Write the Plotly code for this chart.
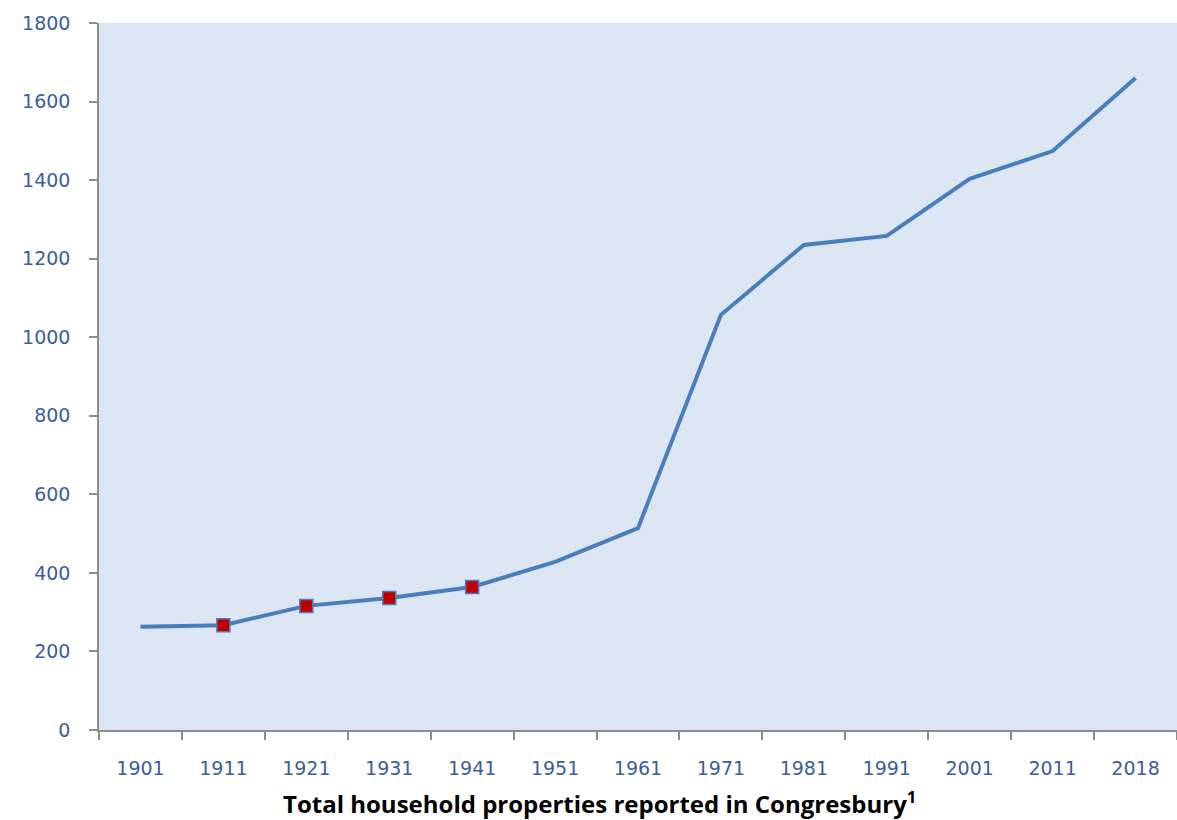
import plotly.graph_objects as go

years = ["1901", "1911", "1921", "1931", "1941", "1951", "1961",
         "1971", "1981", "1991", "2001", "2011", "2018"]
households = [263, 267, 316, 336, 364, 428, 514, 1057, 1235, 1258, 1403, 1474, 1660]
marked_years = ["1911", "1921", "1931", "1941"]
marked_values = [267, 316, 336, 364]
y_ticks = [0, 200, 400, 600, 800, 1000, 1200, 1400, 1600, 1800]

tick_font = dict(family="DejaVu Sans, sans-serif", size=19, color="#3a5e9c")

fig = go.Figure()
fig.add_trace(go.Scatter(
    x=years, y=households, mode="lines",
    line=dict(color="#4a7ebb", width=4), showlegend=False, hoverinfo="x+y"))
fig.add_trace(go.Scatter(
    x=marked_years, y=marked_values, mode="markers",
    marker=dict(symbol="square", size=13, color="#c00000",
                line=dict(color="#4a7ebb", width=1.5)),
    showlegend=False))

fig.update_layout(
    width=1177, height=820,
    margin=dict(l=99, r=0, t=23, b=90),
    paper_bgcolor="white", plot_bgcolor="#dce6f2",
    xaxis=dict(type="category", range=[-0.5, 12.5], showgrid=False,
               showline=True, linecolor="#8c8c8c", linewidth=1.5,
               ticks="outside", tickson="boundaries", ticklen=8,
               tickcolor="#8c8c8c", tickwidth=1.5, tickfont=tick_font,
               ticklabelstandoff=20, zeroline=False),
    yaxis=dict(range=[0, 1800], tickvals=y_ticks, showgrid=False,
               showline=True, linecolor="#8c8c8c", linewidth=1.5,
               ticks="outside", ticklen=8, tickcolor="#8c8c8c", tickwidth=1.5,
               tickfont=tick_font, ticklabelstandoff=15, zeroline=False),
    annotations=[dict(
        text="<b>Total household properties reported in Congresbury<sup>1</sup></b>",
        xref="paper", yref="paper", x=0.464, y=-0.103, xanchor="center",
        yanchor="middle", showarrow=False,
        font=dict(family="Open Sans, Liberation Sans, sans-serif", size=24, color="black"))],
)

fig.write_html("out.html", config={"displayModeBar": False},
               post_script="document.body.style.margin='0';")
